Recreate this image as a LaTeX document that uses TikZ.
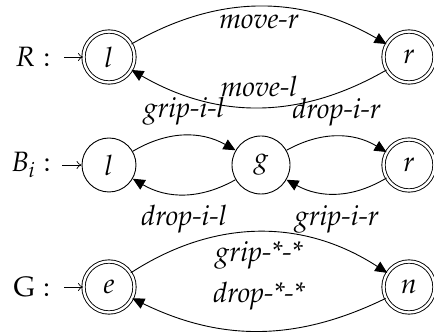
\documentclass[tikz,border=0pt]{standalone}
\usepackage[T1]{fontenc}
\usepackage{mathpazo}
\usetikzlibrary{arrows.meta}
\begin{document}
\begin{tikzpicture}[x=1pt,y=1pt,
  font=\fontsize{28}{34}\selectfont,
  state/.style={circle,draw,line width=0.9pt,minimum size=54pt,inner sep=0pt},
  acc/.style={state,double,double distance=2.4pt,minimum size=51pt},
  edge/.style={line width=0.9pt,-{Triangle[length=12pt,width=11pt]}},
  init/.style={line width=0.7pt,-{To[length=5pt,width=8pt]}},
  lab/.style={font=\fontsize{28}{34}\selectfont\itshape,inner sep=2pt}]
\useasboundingbox (0,0) rectangle (434,-336);
% states
\node[acc] (Rl) at (109,-57) {$l$};
\node[acc] (Rr) at (409,-57) {$r$};
\node[state] (Bl) at (109,-165) {$l$};
\node[state,minimum size=58pt] (Bg) at (261,-165) {$g$};
\node[acc] (Br) at (409,-165) {$r$};
\node[acc] (Ge) at (109,-287) {$e$};
\node[acc] (Gn) at (409,-287) {$n$};
% row names
\node (RN) at (33,-57) {$R:$};
\node (BN) at (31,-165) {$B_i:$};
\node (GN) at (32,-287) {$\mathrm{G}:$};
\coordinate (Ri) at (64,-57);
\coordinate (Bi) at (62,-165);
\coordinate (Gi) at (64,-287);
\draw[init] (Ri) -- (Rl);
\draw[init] (Bi) -- (Bl);
\draw[init] (Gi) -- (Ge);
% R edges
\draw[edge] (Rl) to[bend left=30] node[lab,below=5pt] {move-r} (Rr);
\draw[edge] (Rr) to[bend left=30] node[lab,above=8pt] {move-l} (Rl);
% B edges
\draw[edge] (Bl) to[bend left=30] node[lab,above=8pt] {grip-i-l} (Bg);
\draw[edge] (Bg) to[bend left=30] node[lab,below=9pt] {drop-i-l} (Bl);
\draw[edge] (Bg) to[bend left=30] node[lab,above=8pt] {drop-i-r} (Br);
\draw[edge] (Br) to[bend left=30] node[lab,below=9pt] {grip-i-r} (Bg);
% G edges
\draw[edge] (Ge) to[bend left=33] node[lab,below=7pt] {grip-*-*} (Gn);
\draw[edge] (Gn) to[bend left=26] node[lab,above=18pt] {drop-*-*} (Ge);
\end{tikzpicture}
\end{document}
